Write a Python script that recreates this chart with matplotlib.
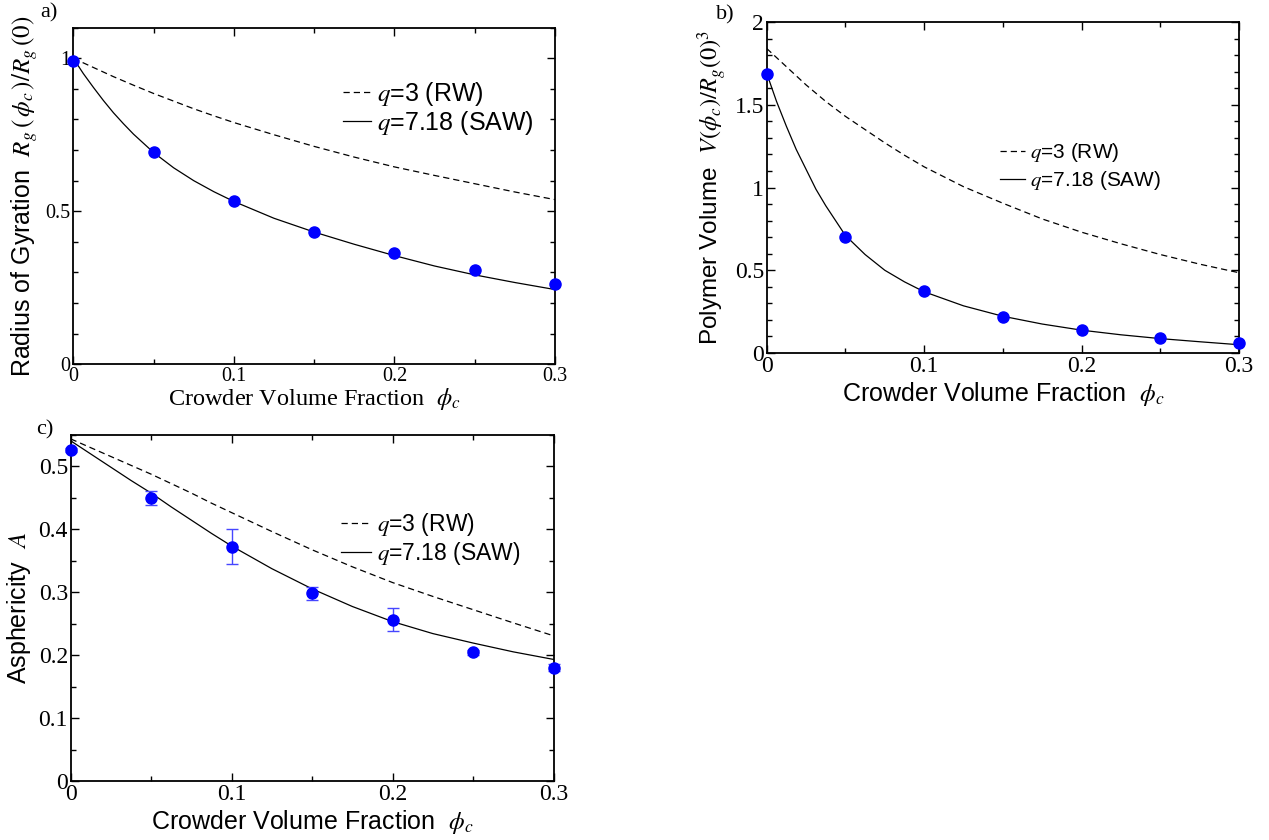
import matplotlib
matplotlib.use("Agg")
import matplotlib.pyplot as plt
from matplotlib.ticker import MultipleLocator, FuncFormatter

plt.rcParams['font.family'] = ['Liberation Sans', 'DejaVu Sans']
plt.rcParams['mathtext.fontset'] = 'stix'

# ---------------- data ----------------
phi_pts = [0.0, 0.05, 0.10, 0.15, 0.20, 0.25, 0.30]
phi_fit = [0.0, 0.00625, 0.0125, 0.01875, 0.025, 0.03125, 0.0375, 0.05,
           0.0625, 0.075, 0.0875, 0.10, 0.125, 0.15, 0.175, 0.20, 0.225,
           0.25, 0.275, 0.30]

# a) radius of gyration ratio
rg_pts = [0.99, 0.695, 0.534, 0.431, 0.362, 0.307, 0.261]
rg_saw = [1.0, 0.950, 0.905, 0.862, 0.822, 0.786, 0.752, 0.692, 0.642,
          0.600, 0.564, 0.532, 0.477, 0.432, 0.392, 0.355, 0.321, 0.292,
          0.267, 0.244]
rg_rw = [1.0, 0.985, 0.970, 0.955, 0.940, 0.926, 0.912, 0.885, 0.860,
         0.835, 0.812, 0.790, 0.750, 0.712, 0.677, 0.645, 0.617, 0.590,
         0.563, 0.538]

# b) polymer volume
vol_pts = [1.685, 0.700, 0.372, 0.220, 0.138, 0.088, 0.058]
vol_saw = [1.69, 1.52, 1.37, 1.23, 1.11, 0.99, 0.89, 0.71, 0.595, 0.50,
           0.43, 0.37, 0.285, 0.222, 0.175, 0.138, 0.110, 0.087, 0.068,
           0.050]
vol_rw = [1.84, 1.785, 1.73, 1.675, 1.62, 1.57, 1.52, 1.43, 1.35, 1.27,
          1.195, 1.125, 1.005, 0.905, 0.810, 0.730, 0.660, 0.595, 0.537,
          0.485]

# c) asphericity
asp_pts = [0.525, 0.449, 0.372, 0.298, 0.256, 0.204, 0.180]
asp_err = [0.003, 0.011, 0.028, 0.010, 0.018, 0.004, 0.006]
asp_saw = [0.540, 0.5295, 0.519, 0.5085, 0.498, 0.4875, 0.477, 0.457,
           0.435, 0.414, 0.393, 0.373, 0.337, 0.305, 0.277, 0.253, 0.234,
           0.219, 0.205, 0.193]
asp_rw = [0.543, 0.536, 0.529, 0.522, 0.515, 0.508, 0.501, 0.487, 0.472,
          0.457, 0.441, 0.426, 0.396, 0.367, 0.340, 0.315, 0.293, 0.272,
          0.251, 0.2305]

xticks = [0.0, 0.1, 0.2, 0.3]
lab_rw = '$q$=3 (RW)'
lab_saw = '$q$=7.18 (SAW)'

# ---------------- figure ----------------
W, H = 1269, 840
fig = plt.figure(figsize=(W / 100, H / 100), dpi=100)


def px_axes(x0, x1, y0, y1):
    return fig.add_axes([x0 / W, 1 - y1 / H, (x1 - x0) / W, (y1 - y0) / H])


fmt = FuncFormatter(lambda v, p: '%g' % round(v, 3))


def style(ax, ymax, ymaj, ymin, ticksize):
    ax.set_xlim(0, 0.3)
    ax.set_ylim(0, ymax)
    ax.set_xticks(xticks)
    ax.xaxis.set_minor_locator(MultipleLocator(0.05))
    ax.yaxis.set_major_locator(MultipleLocator(ymaj))
    ax.yaxis.set_minor_locator(MultipleLocator(ymin))
    ax.xaxis.set_major_formatter(fmt)
    ax.yaxis.set_major_formatter(fmt)
    ax.tick_params(which='both', direction='in', top=True, right=True,
                   width=1.0, labelsize=ticksize,
                   labelfontfamily='Liberation Serif', pad=2)
    ax.tick_params(which='major', length=6)
    ax.tick_params(which='minor', length=3.5)
    for s in ax.spines.values():
        s.set_linewidth(1.3)


def draw(ax, yfit_rw, yfit_saw, ypts, yerr=None):
    ax.plot(phi_fit, yfit_rw, color='black', lw=0.9, ls=(0, (5, 3.2)),
            label=lab_rw)
    ax.plot(phi_fit, yfit_saw, color='black', lw=0.9, label=lab_saw)
    if yerr is not None:
        ax.errorbar(phi_pts, ypts, yerr=yerr, fmt='none', ecolor='#4646ff',
                    elinewidth=1.0, capsize=4, capthick=1.0, zorder=4,
                    clip_on=False)
    ax.plot(phi_pts, ypts, 'o', color='#0000ff', ms=8, mec='#0000ff',
            zorder=5, clip_on=False)


def legend(ax, x, y, size, hl=1.1, sp=0.05):
    ax.legend(loc='upper left', bbox_to_anchor=(x, y), frameon=False,
              fontsize=size, handlelength=hl, handletextpad=0.25,
              borderpad=0, borderaxespad=0, labelspacing=sp)


# a)
axa = px_axes(73.3, 555, 27.7, 364.2)
style(axa, 1.1, 0.5, 0.1, 14.5)
draw(axa, rg_rw, rg_saw, rg_pts)
axa.set_xlabel('Crowder Volume Fraction  $\\phi_c$', fontsize=17.5,
               family='Liberation Serif', labelpad=0)
axa.set_ylabel('Radius of Gyration  $R_g\\,(\\,\\phi_c\\,)/R_g\\,(0)$',
               fontsize=18, labelpad=4)
legend(axa, 0.56, 0.845, 18)
fig.text(40 / W, 1 - 13 / H, 'a)', fontsize=16, family='Liberation Serif',
         va='center')

# b)
axb = px_axes(766.7, 1239, 22, 353)
style(axb, 2.0, 0.5, 0.1, 17)
draw(axb, vol_rw, vol_saw, vol_pts)
axb.set_xlabel('Crowder Volume Fraction  $\\phi_c$', fontsize=18, labelpad=2)
axb.set_ylabel('Polymer Volume  $V(\\phi_c)/R_g(0)^3$', fontsize=17.5,
               labelpad=4)
legend(axb, 0.494, 0.64, 15, hl=1.2, sp=0.25)
fig.text(716 / W, 1 - 15 / H, 'b)', fontsize=16, family='Liberation Serif',
         va='center')

# c)
axc = px_axes(70.7, 553.5, 434.5, 781)
style(axc, 0.55, 0.1, 0.05, 17)
draw(axc, asp_rw, asp_saw, asp_pts, asp_err)
axc.set_xlabel('Crowder Volume Fraction  $\\phi_c$', fontsize=18, labelpad=2)
axc.set_ylabel('Asphericity  $A$', fontsize=18, labelpad=4)
legend(axc, 0.56, 0.778, 16.5, hl=1.3, sp=0.05)
fig.text(36 / W, 1 - 430 / H, 'c)', fontsize=16, family='Liberation Serif',
         va='center')

fig.savefig('out.png', dpi=100)
